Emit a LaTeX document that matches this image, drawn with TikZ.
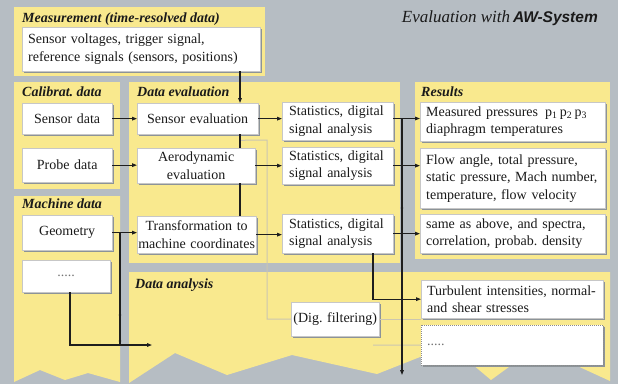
\documentclass[tikz,border=0pt]{standalone}
\usepackage{fontspec}
\setmainfont{Liberation Serif}
\newfontfamily\headsans{Liberation Sans}
\usetikzlibrary{shadows,arrows.meta}

\definecolor{panel}{HTML}{F9E98E}
\definecolor{backdrop}{HTML}{B6BDC3}
\definecolor{wire}{HTML}{1E1E1E}
\definecolor{faint}{HTML}{CBC6B0}
\definecolor{shade}{HTML}{8C9398}
\definecolor{ink}{HTML}{1A1A1A}

\frenchspacing

\tikzset{
  panelbox/.style={fill=panel, draw=none},
  ptitle/.style={inner sep=0pt, anchor=base west, text=ink,
    font=\fontsize{14}{16}\selectfont\bfseries\itshape},
  card/.style={fill=white, draw=black!22, line width=.3pt,
    inner ysep=0pt, inner xsep=6pt, anchor=north west, align=left, text=ink,
    font=\fontsize{14}{17.5}\selectfont,
    drop shadow={shadow xshift=1.6pt, shadow yshift=-1.8pt, fill=shade, opacity=1}},
  wh/.style n args={3}{minimum width=#1pt, minimum height=#2pt, text width=#3pt},
  line/.style={draw=wire, line width=1.1pt},
  arr/.style={line, -{Triangle[length=5pt,width=3.6pt]}},
  thin/.style={draw=faint, line width=1pt},
  jdot/.style={circle, fill=wire, inner sep=0pt, minimum size=2.6pt},
}

\begin{document}
\begin{tikzpicture}[x=1pt, y=-1pt]
  % backdrop
  \fill[backdrop] (0,0) rectangle (618,384);
  \useasboundingbox (0,0) rectangle (618,384);

  % yellow panels
  \fill[panelbox] (14,7) rectangle (265,76);
  \fill[panelbox] (14,82) rectangle (120,189);
  \fill[panelbox] (14,196) -- (120,196) -- (120,382) -- (88,373) -- (65,380)
                  -- (40,370) -- (14,382) -- cycle;
  \fill[panelbox] (129,82) rectangle (400,263);
  \fill[panelbox] (415,82) rectangle (610,259);
  \fill[panelbox] (129,272) -- (610,272) -- (610,381) -- (573,364) -- (513,364)
                  -- (491,380) -- (472,364) -- (420,357) -- (377,374) -- (292,355)
                  -- (227,375) -- (175,353) -- (129,383) -- cycle;

  % heading
  \node[anchor=base east, inner sep=0pt, text=ink] (head) at (598,22)
    {{\fontsize{17}{20}\selectfont\itshape Evaluation with}\kern3pt{\headsans\fontsize{15.5}{18}\selectfont\bfseries\itshape AW-System}};

  % panel titles
  \node[ptitle] (tmeas) at (22,22) {Measurement (time-resolved data)};
  \node[ptitle] (tcal)  at (22,96) {Calibrat. data};
  \node[ptitle] (tmach) at (22,208) {Machine data};
  \node[ptitle] (teval) at (137,96) {Data evaluation};
  \node[ptitle] (tres)  at (421,96) {Results};
  \node[ptitle] (tana)  at (135,288) {Data analysis};

  % boxes
  \node[card, wh={238}{44}{226}] (meas) at (22,27)
    {Sensor voltages, trigger signal,\\reference signals (sensors, positions)};
  \node[card, align=center, wh={90}{31}{78}] (sdata) at (22,103) {Sensor data};
  \node[card, align=center, wh={90}{34}{78}] (pdata) at (22,148) {Probe data};
  \node[card, align=center, wh={90}{35}{78}] (geom) at (22,215) {Geometry};
  \node[card, align=center, wh={88}{32}{76}] (dotsL) at (22,260) {\textcolor{black!55}{.....}};

  \node[card, align=center, wh={121}{31}{109}] (seval) at (137,103) {Sensor evaluation};
  \node[card, align=center, inner xsep=4pt, wh={118}{35}{110}] (aero) at (137,148)
    {Aerodynamic\\evaluation};
  \node[card, align=center, inner xsep=0pt, wh={119}{37}{119}] (trans) at (137,216)
    {Transformation to\\machine coordinates};

  \node[card, inner xsep=7pt, wh={111}{38}{97}] (stats1) at (282,102)
    {Statistics, digital\\signal analysis};
  \node[card, inner xsep=7pt, wh={111}{37}{97}] (stats2) at (282,147)
    {Statistics, digital\\signal analysis};
  \node[card, inner xsep=7pt, wh={111}{39}{97}] (stats3) at (282,214)
    {Statistics, digital\\signal analysis};

  \node[card, wh={185}{39}{173}] (res1) at (420,102)
    {Measured pressures\, p\textsubscript{1}\,p\textsubscript{2}\,p\textsubscript{3}\\diaphragm temperatures};
  \node[card, wh={185}{60}{173}] (res2) at (420,148)
    {Flow angle, total pressure,\\static pressure, Mach number,\\temperature, flow velocity};
  \node[card, wh={185}{39}{173}] (res3) at (420,214)
    {same as above, and spectra,\\correlation, probab. density};

  \node[card, wh={182}{38}{170}] (turb) at (421,280)
    {Turbulent intensities, normal-\\and shear stresses};
  \node[card, draw=black!45, dash pattern=on 1pt off 1pt, wh={182}{40}{170}] (dots2) at (421,325)
    {\textcolor{black!55}{.....}};
  \node[card, align=center, inner xsep=1pt, wh={88}{34}{86}] (filt) at (291,302)
    {\mbox{(Dig. filtering)}};

  % fixed points of the connectors
  \coordinate (cx) at (240,0);
  \coordinate (branch) at (267,140);
  \coordinate (trunktop) at (402,118.5);
  \coordinate (trunkbot) at (402,375);
  \coordinate (fx) at (373,0);
  \coordinate (lowstart) at (373,345);
  \coordinate (gbend) at (120,345);
  \coordinate (gend) at (152,345);
  \coordinate (dx) at (70,0);

  % faint lines (digital filtering path)
  \draw[thin] (seval.south -| cx) ++(0,6) -- (branch) |- (filt.west);
  \draw[thin] (filt.east) -- (filt.east -| turb.west);
  \draw[thin] (lowstart) -- (dots2.west);

  % main flow
  \draw[arr] (meas.south -| cx) -- (seval.north -| cx);
  \draw[line] (seval.south -| cx) -- (aero.north -| cx);
  \draw[line] (aero.south -| cx) -- (trans.north -| cx);
  \draw[arr] (sdata.east) -- (seval.west);
  \draw[arr] (pdata.east) -- (pdata.east -| aero.west);
  \draw[arr] (geom.east) -- (geom.east -| trans.west);
  \draw[arr] (seval.east) -- (seval.east -| stats1.west);
  \draw[arr] (aero.east) -- (aero.east -| stats2.west);
  \draw[arr] (trans.east) -- (trans.east -| stats3.west);
  \draw[arr] (stats1.east |- trunktop) -- (trunktop -| res1.west);
  \draw[arr] (stats2.east) -- (stats2.east -| res2.west);
  \draw[arr] (stats3.east) -- (stats3.east -| res3.west);
  \draw[arr] (trunktop) -- (trunkbot);
  \draw[arr] (stats3.south -| fx) |- (turb.west);

  % machine data to data analysis
  \draw[line] (geom.east -| gbend) -- (gbend);
  \draw[arr] (dotsL.south -| dx) |- (gend);

  % junction marks
  \node[jdot] (j1) at (120,315) {};
  \node[jdot] (j2) at (120,341) {};
  \node[jdot] (j3) at (402,208) {};
\end{tikzpicture}
\end{document}
